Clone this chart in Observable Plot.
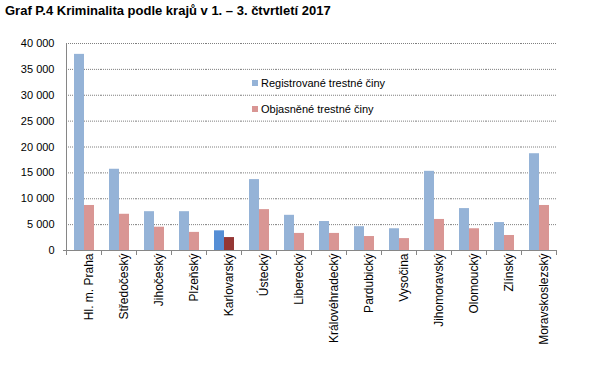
<!DOCTYPE html>
<html>
<head>
<meta charset="utf-8">
<script src="https://cdn.jsdelivr.net/npm/d3@7"></script>
<script src="https://cdn.jsdelivr.net/npm/@observablehq/plot@0.6"></script>
<style>
  body { margin: 0; background: #fff; font-family: "Liberation Sans", Arial, sans-serif; }
  #wrap { position: relative; width: 601px; height: 368px; overflow: hidden; }
  #title { position: absolute; left: 5px; top: 3px; font-weight: bold; font-size: 13px; color: #000; white-space: nowrap; }
  #chart { position: absolute; left: 0; top: 30px; }
  .leg { position: absolute; font-size: 11px; color: #000; white-space: nowrap; line-height: 13px; }
  .leg span { display: inline-block; width: 6px; height: 6px; margin-right: 3px; vertical-align: 1px; }
</style>
</head>
<body>
<div id="wrap">
  <div id="title">Graf P.4 Kriminalita podle krajů v 1. – 3. čtvrtletí 2017</div>
  <div id="chart"></div>
  <div id="legend"></div>
</div>
<script>
const regions = ["Hl. m. Praha", "Středočeský", "Jihočeský", "Plzeňský", "Karlovarský", "Ústecký", "Liberecký",
  "Královéhradecký", "Pardubický", "Vysočina", "Jihomoravský", "Olomoucký", "Zlínský", "Moravskoslezský"];
const registrovane = [37900, 15700, 7500, 7500, 3800, 13700, 6800, 5600, 4600, 4200, 15300, 8100, 5400, 18700];
const objasnene = [8700, 7000, 4500, 3500, 2500, 7900, 3300, 3300, 2700, 2300, 6000, 4200, 2900, 8700];
const seriesNames = ["Registrované trestné činy", "Objasněné trestné činy"];
const seriesColors = ["#95B3D7", "#D99694"];
const highlightRegion = "Karlovarský";
const highlightColors = ["#558ED5", "#953735"];
const yTicks = [0, 5000, 10000, 15000, 20000, 25000, 30000, 35000, 40000];

const rows = [];
regions.forEach((r, i) => {
  [registrovane, objasnene].forEach((vals, s) => {
    rows.push({
      region: r,
      series: seriesNames[s],
      value: vals[i],
      color: r === highlightRegion ? highlightColors[s] : seriesColors[s]
    });
  });
});

const fmt = d => d3.format(",")(d).replace(/,/g, "\u00a0");
const axisGray = "#868686";

const chart = Plot.plot({
  width: 601,
  height: 338,
  marginTop: 13,
  marginBottom: 118,
  marginLeft: 63,
  marginRight: 43,
  style: { fontFamily: "'Liberation Sans', Arial, sans-serif", fontSize: "11px", color: "#000", background: "transparent" },
  fx: { domain: regions, padding: 0, label: null, axis: null },
  x: { domain: seriesNames, paddingInner: 0, paddingOuter: 0.62, axis: null },
  y: { domain: [0, 40000], axis: null },
  color: { type: "identity" },
  marks: [
    Plot.gridY(yTicks, { stroke: "#7f7f7f", strokeOpacity: 1, strokeDasharray: "1,1" }),
    Plot.axisY(yTicks, { tickSize: 0, tickPadding: 12, tickFormat: fmt, label: null, fontSize: 11 }),
    Plot.barY(rows, { fx: "region", x: "series", y: "value", fill: "color" }),
    Plot.ruleY([0], { stroke: axisGray, insetLeft: -3 }),
    Plot.frame({ anchor: "left", stroke: axisGray, facetAnchor: "left" }),
    Plot.frame({ anchor: "left", stroke: axisGray, insetTop: 207, insetBottom: -4 }),
    Plot.frame({ anchor: "right", stroke: axisGray, insetTop: 207, insetBottom: -4, facetAnchor: "right" }),
    Plot.axisFx({ anchor: "bottom", rotate: -90, textAnchor: "end", tickSize: 0, tickPadding: 3, label: null, fontSize: 12 })
  ]
});
document.getElementById("chart").appendChild(chart);

const legend = document.getElementById("legend");
seriesNames.forEach((name, s) => {
  const d = document.createElement("div");
  d.className = "leg";
  d.style.left = "252px";
  d.style.top = (77 + s * 26) + "px";
  d.innerHTML = `<span style="background:${seriesColors[s]}"></span>${name}`;
  legend.appendChild(d);
});
</script>
</body>
</html>
